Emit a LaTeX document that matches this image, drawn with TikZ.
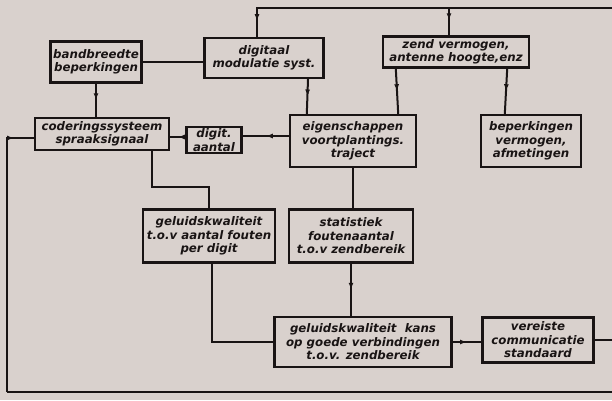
\documentclass[tikz,border=0pt]{standalone}
\usepackage{fontspec}
\setmainfont{DejaVu Sans}
\usetikzlibrary{calc}
\usetikzlibrary{arrows.meta}
\usetikzlibrary{decorations.markings}
\definecolor{papier}{RGB}{217,209,205}
\definecolor{inkt}{RGB}{25,20,20}
\tikzset{
	blok/.style={
		draw,
		rectangle,
		line width=2.4pt,
		align=center,
		inner sep=1pt,
		text=inkt,
		font=\fontsize{11.8}{13.5}\selectfont\bfseries\itshape,
	},
	pijl/.style={
		postaction={decorate},
		decoration={markings,
			mark=at position #1 with {\arrow{Latex[length=7pt,width=5pt]}}},
	},
	pijl/.default=0.5,
}

\begin{document}
\begin{tikzpicture}[x=1pt,y=-1pt,line width=2pt,draw=inkt]
		\fill[papier] (0,0) rectangle (612,400);
		\useasboundingbox (0,0) rectangle (612,400);
		\clip (0,0) rectangle (612,400);

		\node[blok, minimum width=91pt, minimum height=41pt]  (band) at (96,62) {bandbreedte\\beperkingen};
		\node[blok, minimum width=119pt, minimum height=40pt] (digi) at (264,58) {digitaal\\modulatie syst.};
		\node[blok, minimum width=146pt, minimum height=31pt] (zend) at (456,52) {zend vermogen,\\antenne hoogte,enz};

		\node[blok, minimum width=134pt, minimum height=32pt] (coder) at (102,134) {coderingssysteem\\spraaksignaal};
		\node[blok, minimum width=55pt, minimum height=26pt]  (aantal) at (214,140) {digit.\\aantal};
		\node[blok, minimum width=126pt, minimum height=52pt] (eigen) at (353,141) {eigenschappen\\voortplantings.\\traject};
		\node[blok, minimum width=100pt, minimum height=52pt] (beperk) at (531,141) {beperkingen\\vermogen,\\afmetingen};

		\node[blok, minimum width=132pt, minimum height=53pt] (gkwal) at (209,236) {geluidskwaliteit\\t.o.v aantal fouten\\per digit};
		\node[blok, minimum width=124pt, minimum height=53pt] (stat) at (351,236) {statistiek\\foutenaantal\\t.o.v zendbereik};

		\node[blok, minimum width=177pt, minimum height=50pt] (kans) at (363,342) {geluidskwaliteit\ \ kans\\op goede verbindingen\\t.o.v. zendbereik};
		\node[blok, minimum width=111pt, minimum height=45pt] (vereist) at (538,340) {vereiste\\communicatie\\standaard};

		% terugkoppeling rondom
		\coordinate (rechtsboven) at (620,8);
		\coordinate (rechtsonder) at (620,392);
		\coordinate (linksonder) at (7,392);

		\draw (vereist.east) -| (rechtsboven);
		\draw[pijl=0.96] (rechtsboven) -| ([xshift=-7pt]digi.north);
		\draw[pijl=0.45] ([xshift=-7pt]zend.north |- rechtsboven) -- ([xshift=-7pt]zend.north);
		\draw (vereist.east -| rechtsonder) -- (rechtsonder) -- (linksonder);
		\draw[pijl=0.93] (linksonder) |- ([yshift=-4pt]coder.west);

%*********

		\draw (band.east) -- (band.east -| digi.west);
		\draw[pijl] (band.south) -- (band.south |- coder.north);
		\draw[pijl] ([xshift=44pt]digi.south) -- ([xshift=18pt]eigen.north west);
		\draw[pijl] ([xshift=14pt]zend.south west) -- ([xshift=-19pt]eigen.north east);
		\draw[pijl] ([xshift=-23pt]zend.south east) -- ([xshift=25pt]beperk.north west);

		\draw[pijl] ([yshift=5pt]eigen.west) -- ([yshift=5pt]eigen.west -| aantal.east);
		\draw[pijl] ([yshift=3pt]aantal.west) -- ([yshift=3pt]aantal.west -| coder.east);

%*********

		\draw ([xshift=50pt]coder.south) -- ++(0,36) -| (gkwal.north);
		\draw (eigen.south) -- (eigen.south |- stat.north);
		\draw ([xshift=3pt]gkwal.south) |- (kans.west);
		\draw[pijl] (stat.south) -- (stat.south |- kans.north);
		\draw[pijl] (kans.east) -- (kans.east -| vereist.west);

	\end{tikzpicture}
\end{document}
